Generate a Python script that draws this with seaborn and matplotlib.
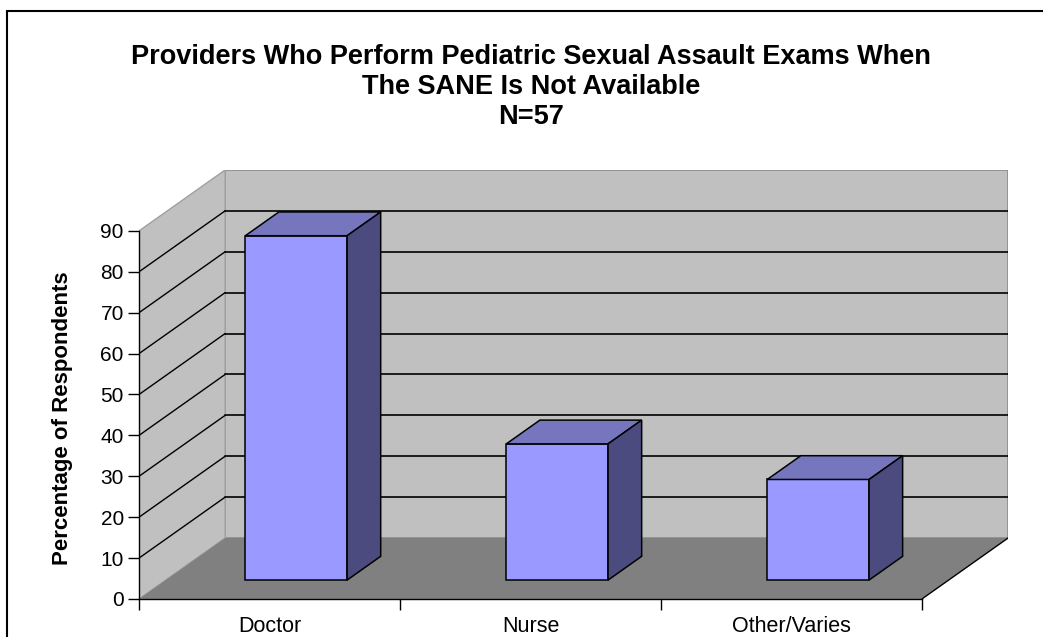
import numpy as np
import pandas as pd
import seaborn as sns
import matplotlib.pyplot as plt
from matplotlib.patches import Polygon, Rectangle

# Data
categories = ['Doctor', 'Nurse', 'Other/Varies']
percentages = [84.2, 33.3, 24.6]
y_ticks = [0, 10, 20, 30, 40, 50, 60, 70, 80, 90]
title_lines = ['Providers Who Perform Pediatric Sexual Assault Exams When',
               'The SANE Is Not Available',
               'N=57']
y_label = 'Percentage of Respondents'

df = pd.DataFrame({'provider': categories, 'pct': percentages})

sns.set_theme(style='white')
plt.rcParams['font.family'] = ['Liberation Sans', 'DejaVu Sans']
plt.rcParams['text.color'] = 'black'
plt.rcParams['xtick.color'] = 'black'
plt.rcParams['ytick.color'] = 'black'

fig = plt.figure(figsize=(10.43, 6.37), dpi=100)
ax = fig.add_axes([0.1333, 0.0597, 0.8332, 0.6735])

# oblique depth of the 3d box (data units) and where the bars sit in it
dx, dy = 0.33, 14.9
f0, f1 = 0.31, 0.70
ymax = y_ticks[-1]
x0, x1 = -0.5, len(categories) - 0.5

# front faces with seaborn
sns.barplot(data=df, x='provider', y='pct', color='#9999FF', saturation=1,
            width=0.39, edgecolor='black', linewidth=1.1, errorbar=None,
            ax=ax, zorder=3)
bars = list(ax.patches)

# walls and floor
ax.add_patch(Polygon([(x0 + dx, dy), (x1 + dx, dy), (x1 + dx, ymax + dy), (x0 + dx, ymax + dy)],
                     closed=True, facecolor='#C0C0C0', edgecolor='#8C8C8C', lw=1.2, zorder=0))
ax.add_patch(Polygon([(x0, 0), (x0 + dx, dy), (x0 + dx, ymax + dy), (x0, ymax)],
                     closed=True, facecolor='#C0C0C0', edgecolor='#A0A0A0', lw=1.0, zorder=0))
ax.add_patch(Polygon([(x0, 0), (x1, 0), (x1 + dx, dy), (x0 + dx, dy)],
                     closed=True, facecolor='#808080', edgecolor='none', zorder=1))
ax.plot([x1, x1 + dx], [0, dy], color='black', lw=1.0, zorder=1.5)

# gridlines on back wall + left wall
for v in y_ticks[1:-1]:
    ax.plot([x0 + dx, x1 + dx], [v + dy, v + dy], color='black', lw=1.2, zorder=1.5)
    ax.plot([x0, x0 + dx], [v, v + dy], color='black', lw=1.0, zorder=1.5)

# push the front faces back into the box and add top/side faces
for p in bars:
    p.set_x(p.get_x() + f0 * dx)
    h = p.get_height()
    p.set_y(f0 * dy)
    bx0 = p.get_x()
    bx1 = bx0 + p.get_width()
    ddx, ddy = (f1 - f0) * dx, (f1 - f0) * dy
    top = h + f0 * dy
    ax.add_patch(Polygon([(bx0, top), (bx1, top), (bx1 + ddx, top + ddy), (bx0 + ddx, top + ddy)],
                         closed=True, facecolor='#7676BF', edgecolor='black', lw=1.1, zorder=3))
    ax.add_patch(Polygon([(bx1, f0 * dy), (bx1 + ddx, f0 * dy + ddy), (bx1 + ddx, top + ddy), (bx1, top)],
                         closed=True, facecolor='#4B4B7F', edgecolor='black', lw=1.1, zorder=3))

ax.set_xlim(x0, x1 + dx)
ax.set_ylim(0, ymax + dy)
ax.set_facecolor('none')

# axes
for s in ['top', 'right']:
    ax.spines[s].set_visible(False)
for s in ['left', 'bottom']:
    ax.spines[s].set_color('black')
    ax.spines[s].set_linewidth(1.0)
    ax.spines[s].set_zorder(4)
ax.spines['left'].set_bounds(0, ymax)
ax.spines['bottom'].set_bounds(x0, x1)

ax.set_yticks(y_ticks)
ax.set_yticklabels([str(t) for t in y_ticks], fontsize=15, color='black')
ax.set_xticks(np.arange(x0, x1 + 0.01, 1.0))
ax.set_xticklabels([])
ax.set_xticks(np.arange(len(categories)), minor=True)
ax.set_xticklabels(categories, minor=True, fontsize=15.5, color='black')
ax.tick_params(axis='both', which='major', direction='out', length=8, width=1.0,
               color='black', left=True, bottom=True)
ax.tick_params(axis='x', which='minor', length=0, pad=12)
ax.tick_params(axis='y', pad=3)
ax.set_xlabel('')
ax.set_ylabel('')

fig.text(63 / 1043, 1 - 418 / 637, y_label, rotation=90, ha='center', va='center',
         fontsize=16, fontweight='bold', color='black')
fig.text(531 / 1043, 1 - 87 / 637, '\n'.join(title_lines), ha='center', va='center',
         fontsize=19.5, fontweight='bold', linespacing=1.22, color='black')

# chart border (cut by the image edge at right and bottom)
fig.add_artist(Rectangle((7 / 1043, -0.5), 2, 0.5 + 1 - 11 / 637, transform=fig.transFigure,
                         fill=False, edgecolor='black', lw=1.5))

fig.savefig('out.png', dpi=100)
